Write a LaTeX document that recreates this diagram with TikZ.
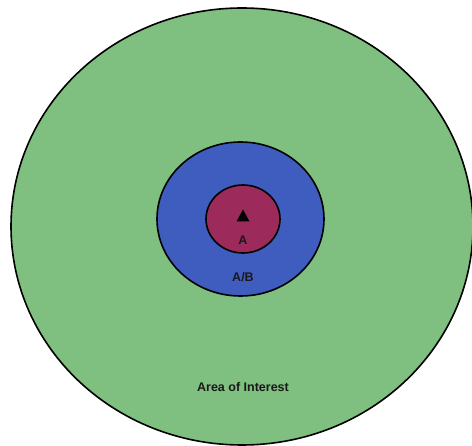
\documentclass[tikz,border=0pt]{standalone}
\usepackage{fontspec}
\setmainfont{Liberation Sans}
\usetikzlibrary{calc}
\definecolor{aoigreen}{HTML}{7FBF7F}
\definecolor{abblue}{HTML}{3F5CBF}
\definecolor{amaroon}{HTML}{9C2B5B}
\begin{document}
\begin{tikzpicture}[x=1pt,y=-1pt,
  zone/.style={draw=black,line width=1.6pt},
  lbl/.style={font=\bfseries\fontsize{12.5}{14}\selectfont,text=black!90,inner sep=0pt}]
\useasboundingbox (0,0) rectangle (472,446);
\path[zone,fill=aoigreen] (242,226.5) ellipse [x radius=231, y radius=218.5];
\path[zone,fill=abblue] (240.5,219) ellipse [x radius=83.5, y radius=77];
\path[zone,fill=amaroon] (243,219) ellipse [x radius=37, y radius=34];
\coordinate (t) at (243,216);
\fill[black] ($(t)+(0,-6.5)$) -- ($(t)+(6.5,5.5)$) -- ($(t)+(-6.5,5.5)$) -- cycle;
\node[lbl] (a) at (243,240) {A};
\node[lbl] (ab) at (243,277) {A/B};
\node[lbl] (aoi) at (243,387) {Area of Interest};
\end{tikzpicture}
\end{document}
